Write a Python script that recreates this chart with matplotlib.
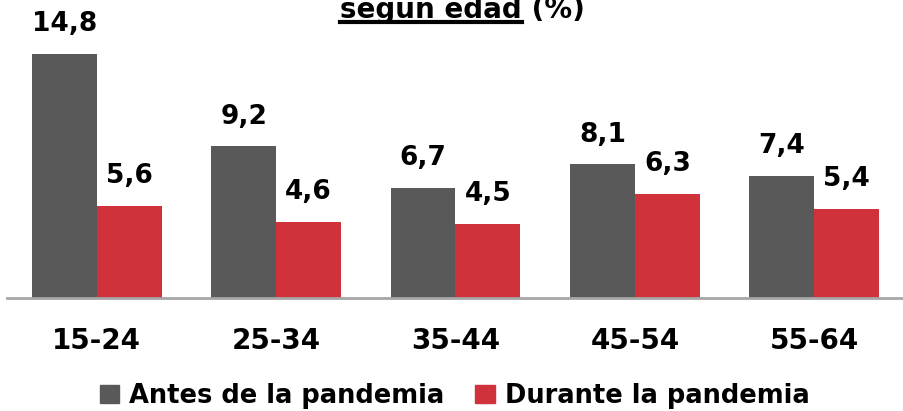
import matplotlib
matplotlib.use("Agg")
import matplotlib.pyplot as plt
from matplotlib.lines import Line2D
from matplotlib.patches import Patch
import numpy as np

categories = ["15-24", "25-34", "35-44", "45-54", "55-64"]
antes = [14.8, 9.2, 6.7, 8.1, 7.4]
durante = [5.6, 4.6, 4.5, 6.3, 5.4]
series_names = ["Antes de la pandemia", "Durante la pandemia"]

C_ANTES = "#595959"
C_DURANTE = "#D0323C"

plt.rcParams["font.family"] = ["DejaVu Sans"]
plt.rcParams["font.weight"] = "bold"

fig = plt.figure(figsize=(9.04, 4.11), dpi=100)
ax = fig.add_axes([7 / 904, 113 / 411, 897 / 904, 298 / 411])

x = np.arange(len(categories))
w = 0.362
b1 = ax.bar(x - w / 2, antes, w, color=C_ANTES)
b2 = ax.bar(x + w / 2, durante, w, color=C_DURANTE)

for bars, vals in ((b1, antes), (b2, durante)):
    for rect, v in zip(bars, vals):
        ax.annotate(f"{v:.1f}".replace(".", ","),
                    (rect.get_x() + rect.get_width() / 2, rect.get_height()),
                    xytext=(0, 12), textcoords="offset points",
                    ha="center", va="bottom", fontsize=19, fontweight="bold")

ax.set_xlim(-0.5, 4.5)
ax.set_ylim(0, 18.07)
ax.set_xticks(x)
ax.set_xticklabels(categories, fontsize=20, fontweight="bold")
ax.tick_params(axis="x", length=0, pad=21)
ax.set_yticks([])
for s in ("top", "right", "left"):
    ax.spines[s].set_visible(False)
ax.spines["bottom"].set_color("#A6A6A6")
ax.spines["bottom"].set_linewidth(2)

handles = [Patch(color=C_ANTES), Patch(color=C_DURANTE)]
fig.legend(handles, series_names, loc="center", bbox_to_anchor=(0.503, 1 - 396 / 411),
           ncol=2, frameon=False, prop={"weight": "bold", "size": 18.5},
           handlelength=0.75, handleheight=0.75, handletextpad=0.4, columnspacing=1.2)

# title (cut off at top in the source), underlined part
t1 = fig.text(522 / 904, 1 - 18 / 411, "según edad", ha="right", va="baseline",
              fontsize=20, fontweight="bold")
t2 = fig.text(522 / 904, 1 - 18 / 411, " (%)", ha="left", va="baseline",
              fontsize=20, fontweight="bold")
fig.canvas.draw()
bb = t1.get_window_extent().transformed(fig.transFigure.inverted())
fig.add_artist(Line2D([bb.x0, bb.x1], [1 - 22 / 411, 1 - 22 / 411],
                      transform=fig.transFigure, color="black", lw=3))

fig.savefig("out.png", dpi=100, facecolor="white")
